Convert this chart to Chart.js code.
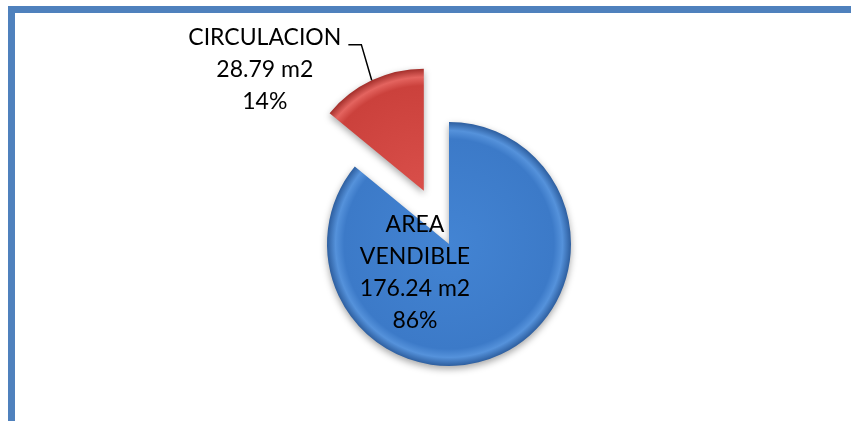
<!DOCTYPE html>
<html>
<head>
<meta charset="utf-8">
<script src="https://cdn.jsdelivr.net/npm/chart.js@4.4.0/dist/chart.umd.min.js"></script>
<style>
    html, body { margin: 0; padding: 0; background: #fff; }
    #wrap { position: relative; width: 851px; height: 421px; overflow: hidden; }
    #frame {
        position: absolute; left: 8px; top: 6px; right: -20px; bottom: -20px;
        border-top: 7px solid #4f81bd; border-left: 7px solid #4f81bd;
    }
    canvas { position: absolute; left: 0; top: 0; }
</style>
</head>
<body>
<div id="wrap">
    <div id="frame"></div>
    <canvas id="areaPie" width="851" height="421"></canvas>
</div>
<script>
// superficie por uso
const categories = ['AREA VENDIBLE', 'CIRCULACION'];
const nameLines = [['AREA', 'VENDIBLE'], ['CIRCULACION']];
const areas = [176.24, 28.79];
const unit = 'm2';

const total = areas.reduce(function(a, b){ return a + b; }, 0);

// gradient stops per slice: centre, body, rim highlight, outer edge
const shades = [
    ['#4384d3', '#3c7ac8', '#5592db', '#2d5e9f'],
    ['#d94f4a', '#cb413c', '#e4645f', '#a22e2a']
];

const explodePlugin = {
    id: 'explode',
    afterDatasetsUpdate: function(chart, args, opts){
        const ctx = chart.ctx;
        chart.getDatasetMeta(0).data.forEach(function(arc, i){
            const d = opts.distance[i] || 0;
            const mid = (arc.startAngle + arc.endAngle) / 2;
            arc.x += Math.cos(mid) * d;
            arc.y += Math.sin(mid) * d;

            const s = opts.shades[i];
            const g = ctx.createRadialGradient(arc.x, arc.y, 0, arc.x, arc.y, arc.outerRadius);
            g.addColorStop(0, s[0]);
            g.addColorStop(0.86, s[1]);
            g.addColorStop(0.93, s[2]);
            g.addColorStop(1, s[3]);
            arc.options = Object.assign({}, arc.options, { backgroundColor: g });
        });
    }
};

const shadowPlugin = {
    id: 'sliceShadow',
    beforeDatasetsDraw: function(chart){
        const ctx = chart.ctx;
        ctx.save();
        ctx.shadowColor = 'rgba(0,0,0,0.35)';
        ctx.shadowBlur = 7;
        ctx.shadowOffsetX = 0;
        ctx.shadowOffsetY = 3;
    },
    afterDatasetsDraw: function(chart){
        chart.ctx.restore();
    }
};

const labelPlugin = {
    id: 'sliceLabels',
    afterDraw: function(chart, args, opts){
        const ctx = chart.ctx;
        ctx.save();
        ctx.font = opts.font;
        ctx.fillStyle = '#000';
        ctx.textAlign = 'center';
        ctx.textBaseline = 'middle';
        chart.getDatasetMeta(0).data.forEach(function(arc, i){
            const a = opts.anchors[i];
            const pct = Math.round(areas[i] / total * 100);
            const lines = nameLines[i].concat([areas[i].toFixed(2) + ' ' + unit, pct + '%']);
            const cx = arc.x + a.dx;
            const cy = arc.y + a.dy;
            lines.forEach(function(t, k){
                ctx.fillText(t, cx, cy + (k - (lines.length - 1) / 2) * opts.lineHeight);
            });

            if (a.leader) {
                const firstY = cy - (lines.length - 1) / 2 * opts.lineHeight;
                const w = ctx.measureText(lines[0]).width;
                const x0 = cx + w / 2 + 7;
                const y0 = firstY + 7;
                const mid = (arc.startAngle + arc.endAngle) / 2;
                ctx.beginPath();
                ctx.moveTo(x0, y0);
                ctx.lineTo(x0 + 13, y0);
                ctx.lineTo(arc.x + Math.cos(mid) * arc.outerRadius, arc.y + Math.sin(mid) * arc.outerRadius);
                ctx.strokeStyle = '#000';
                ctx.lineWidth = 1.5;
                ctx.stroke();
            }
        });
        ctx.restore();
    }
};

new Chart(document.getElementById('areaPie').getContext('2d'), {
    type: 'pie',
    data: {
        labels: categories,
        datasets: [{
            data: areas,
            backgroundColor: ['#3c7ac8', '#cb413c'],
            borderWidth: 0
        }]
    },
    options: {
        responsive: false,
        animation: false,
        devicePixelRatio: 1,
        radius: 122,
        layout: { padding: { left: 47, top: 67, right: 0, bottom: 0 } },
        plugins: {
            legend: { display: false },
            tooltip: { enabled: false },
            explode: { distance: [0, 59], shades: shades },
            sliceLabels: {
                font: '23px Lato',
                lineHeight: 32,
                anchors: [
                    { dx: -34, dy: 29 },
                    { dx: -159, dy: -121, leader: true }
                ]
            }
        }
    },
    plugins: [explodePlugin, shadowPlugin, labelPlugin]
});
</script>
</body>
</html>
